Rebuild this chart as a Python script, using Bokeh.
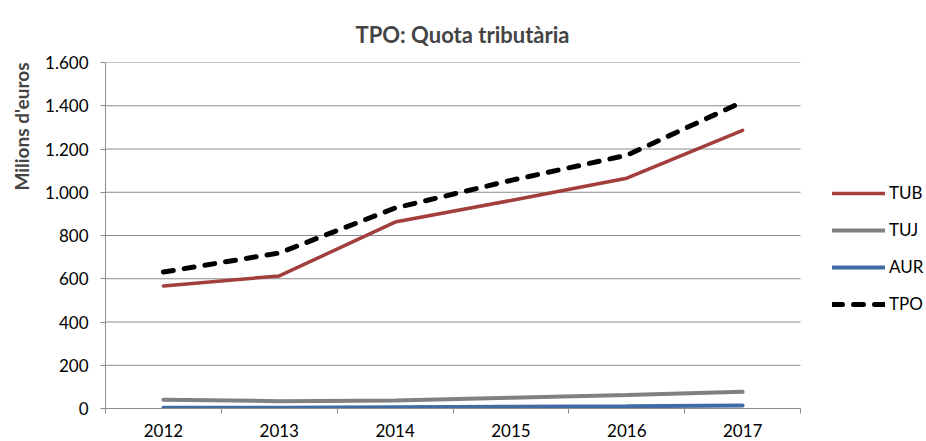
from bokeh.plotting import figure
from bokeh.models import (Range1d, FixedTicker, Legend, LegendItem, Title, ColumnDataSource)
from bokeh.embed import file_html
from bokeh.resources import INLINE

years = ["2012", "2013", "2014", "2015", "2016", "2017"]
tub = [567, 613, 862, 962, 1065, 1286]
tuj = [41, 34, 37, 50, 62, 77]
aur = [3, 4, 6, 8, 10, 14]
tpo = [631, 719, 927, 1055, 1171, 1418]
y_ticks = [0, 200, 400, 600, 800, 1000, 1200, 1400, 1600]
y_tick_labels = ["0", "200", "400", "600", "800", "1.000", "1.200", "1.400", "1.600"]

FONT = "Lato"
GRID = "#8c8c8c"
C_TUB, C_TUJ, C_AUR, C_TPO = "#a23f3d", "#808080", "#3f6ca3", "black"
N = len(years)
X_END = N + 1.07   # extra room on the right of the frame for the legend

xs = [i + 0.5 for i in range(N)]
src = ColumnDataSource(dict(x=xs, tub=tub, tuj=tuj, aur=aur, tpo=tpo))
grid_src = ColumnDataSource(dict(y=y_ticks, x0=[0] * len(y_ticks), x1=[N] * len(y_ticks)))

p = figure(width=924, height=439, output_backend="svg", toolbar_location=None,
           x_range=Range1d(0, X_END), y_range=Range1d(0, 1600),
           min_border_left=105, min_border_right=0, min_border_top=62, min_border_bottom=30)
p.outline_line_color = None
p.background_fill_color = "white"

p.title.text = "TPO: Quota tributària"
p.title.align = "left"
p.title.offset = 250
p.title.vertical_align = "top"
p.title.text_font = FONT
p.title.text_font_size = "22px"
p.title.text_font_style = "bold"
p.title.standoff = 26

ylab = Title(text="Milions d'euros", align="right", vertical_align="top", text_font=FONT,
             text_font_size="19px", text_font_style="bold", standoff=16)
p.add_layout(ylab, "left")

# axes
p.yaxis.ticker = FixedTicker(ticks=y_ticks)
p.yaxis.major_label_overrides = {t: l for t, l in zip(y_ticks, y_tick_labels)}
p.yaxis.axis_line_color = GRID
p.yaxis.major_tick_line_color = GRID
p.yaxis.major_tick_out = 5
p.yaxis.major_tick_in = 0
p.yaxis.minor_tick_line_color = None
p.yaxis.major_label_text_font = FONT
p.yaxis.major_label_text_font_size = "17px"
p.yaxis.major_label_text_color = "black"
p.yaxis.major_label_standoff = 12

p.xaxis.bounds = (0, N)
p.xaxis.ticker = FixedTicker(ticks=xs, minor_ticks=list(range(N + 1)))
p.xaxis.major_label_overrides = {x: y for x, y in zip(xs, years)}
p.xaxis.axis_line_color = GRID
p.xaxis.major_tick_line_color = None
p.xaxis.major_tick_out = 0
p.xaxis.major_tick_in = 0
p.xaxis.minor_tick_line_color = GRID
p.xaxis.minor_tick_out = 5
p.xaxis.minor_tick_in = 0
p.xaxis.major_label_text_font = FONT
p.xaxis.major_label_text_font_size = "17px"
p.xaxis.major_label_text_color = "black"
p.xaxis.major_label_standoff = 10

p.xgrid.visible = False
p.ygrid.visible = False
p.segment(x0="x0", x1="x1", y0="y", y1="y", source=grid_src, line_color=GRID, line_width=1)

r_tuj = p.line("x", "tuj", source=src, line_color=C_TUJ, line_width=4, line_cap="round")
r_aur = p.line("x", "aur", source=src, line_color=C_AUR, line_width=4, line_cap="round")
r_tub = p.line("x", "tub", source=src, line_color=C_TUB, line_width=3.5, line_cap="round")
r_tpo = p.line("x", "tpo", source=src, line_color=C_TPO, line_width=5, line_dash="10 11",
               line_cap="round")

legend = Legend(items=[LegendItem(label="TUB", renderers=[r_tub]),
                       LegendItem(label="TUJ", renderers=[r_tuj]),
                       LegendItem(label="AUR", renderers=[r_aur]),
                       LegendItem(label="TPO", renderers=[r_tpo])],
                location=(727, 94), orientation="vertical",
                glyph_width=53, glyph_height=20, label_height=20, label_standoff=4,
                spacing=16, padding=0, margin=0,
                border_line_color=None, background_fill_alpha=0,
                label_text_font=FONT, label_text_font_size="17px", label_text_color="black")
p.add_layout(legend)

open("out.html", "w").write(file_html(p, INLINE))
